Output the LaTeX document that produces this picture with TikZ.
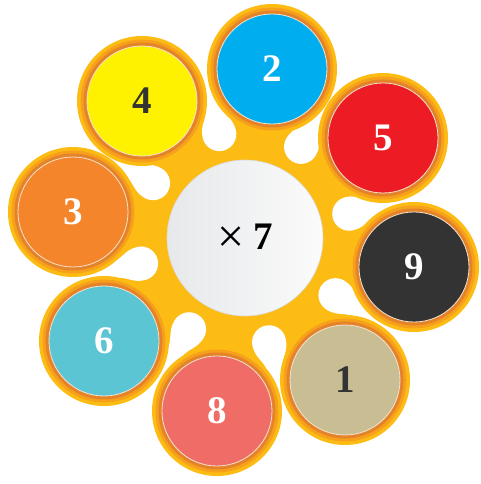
\documentclass[tikz,border=0pt]{standalone}
\usepackage{fontspec}
\setmainfont{Liberation Serif}
\definecolor{gold}{HTML}{FDBC14}
\definecolor{ringA}{HTML}{F6A01B}
\definecolor{ringB}{HTML}{E4832A}
\definecolor{ringline}{HTML}{F3E3CF}
\definecolor{cBlue}{HTML}{00AEEF}
\definecolor{cRed}{HTML}{ED1C24}
\definecolor{cDark}{HTML}{333333}
\definecolor{cTan}{HTML}{C9BD94}
\definecolor{cSalmon}{HTML}{F06D67}
\definecolor{cTeal}{HTML}{5BC5D4}
\definecolor{cOrange}{HTML}{F5852A}
\definecolor{cYellow}{HTML}{FFF200}
\definecolor{txtDark}{HTML}{333333}
\definecolor{ctrL}{HTML}{E6E8EA}
\definecolor{ctrR}{HTML}{FBFBFB}
\newcommand\bub[6]{%
  \fill[gold] (#2,#3) circle[radius=65];
  \fill[ringA] (#2,#3) circle[radius=61.5];
  \fill[ringB] (#2,#3) circle[radius=58.5];
  \node[numdisc, fill=#4, text=#5] (#1) at (#2,#3) {#6};
}
\begin{document}
\begin{tikzpicture}[x=1pt,y=1pt,
  numdisc/.style={circle, minimum size=110pt, inner sep=0pt, draw=ringline, line width=0.8pt,
    font=\fontsize{39}{40}\selectfont\bfseries},
  centerdisc/.style={circle, minimum size=156pt, inner sep=0pt, left color=ctrL, right color=ctrR,
    draw=black!15, line width=0.6pt, font=\fontsize{39}{40}\selectfont},
  notch/.style={fill=white}]
\useasboundingbox (0,0) rectangle (480,484);
\coordinate (C) at (245,246);
\fill[gold] (C) circle[radius=140];
\foreach \a in {103.9,58.4,13.1,-32.3,-77,-121.5,-166.2,149.2}{
  \begin{scope}[shift={(C)},rotate=\a]
    \fill[notch] (107,17) arc[start angle=90,end angle=270,radius=17]
      .. controls (121,-17) and (124,-8) .. (138,-8) -- (205,-8) -- (205,8) -- (138,8)
      .. controls (124,8) and (121,17) .. (107,17) -- cycle;
  \end{scope}
}
\bub{n2}{272}{415}{cBlue}{white}{2}
\bub{n5}{383}{346}{cRed}{white}{5}
\bub{n9}{414}{217}{cDark}{white}{9}
\bub{n1}{345}{104}{cTan}{txtDark}{1}
\bub{n8}{217}{73}{cSalmon}{white}{8}
\bub{n6}{104}{143}{cTeal}{white}{6}
\bub{n3}{73}{272}{cOrange}{white}{3}
\bub{n4}{142}{383}{cYellow}{txtDark}{4}
\node[centerdisc] (ctr) at (C) {\raisebox{-3pt}{\fontsize{48}{48}\selectfont ×}\hspace{9pt}\textbf{7}};
\end{tikzpicture}
\end{document}
